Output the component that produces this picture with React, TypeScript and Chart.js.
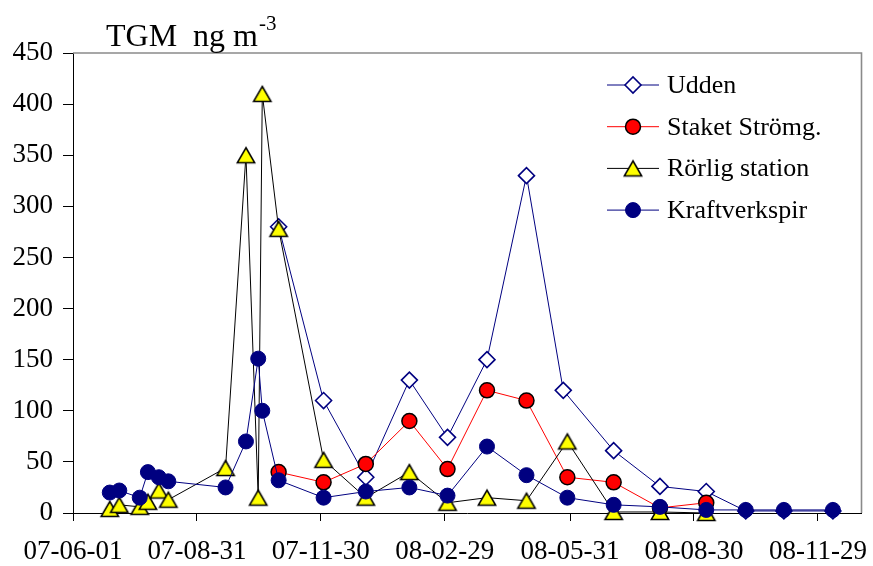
import React, { useEffect, useRef } from 'react';
import { Chart, registerables } from 'chart.js';
import { drawPoint } from 'chart.js/helpers';

Chart.register(...registerables);

// ---------- data ----------
const xMinDate = '2007-06-01';
const xMaxDate = '2008-12-31';
const xTickDates = ['2007-06-01', '2007-08-31', '2007-11-30', '2008-02-29', '2008-05-31', '2008-08-30', '2008-11-29'];
const xTickLabels = ['07-06-01', '07-08-31', '07-11-30', '08-02-29', '08-05-31', '08-08-30', '08-11-29'];
const yMin = 0;
const yMax = 450;
const yStep = 50;

const uddenDates = ['2007-10-30', '2007-12-02', '2008-01-02', '2008-02-03', '2008-03-02', '2008-03-31', '2008-04-29', '2008-05-26', '2008-07-02', '2008-08-05', '2008-09-08', '2008-10-07', '2008-11-04', '2008-12-10'];
const uddenValues = [280, 110, 35, 130, 74, 150, 330, 120, 61, 26, 21, 2, 2, 2];

const staketDates = ['2007-10-30', '2007-12-02', '2008-01-02', '2008-02-03', '2008-03-02', '2008-03-31', '2008-04-29', '2008-05-29', '2008-07-02', '2008-08-05', '2008-09-08'];
const staketValues = [40, 30, 48, 90, 43, 120, 110, 35, 30, 5, 10];

const rorligDates = ['2007-06-28', '2007-07-05', '2007-07-20', '2007-07-26', '2007-08-03', '2007-08-10', '2007-09-21', '2007-10-06', '2007-10-15', '2007-10-18', '2007-10-30', '2007-12-02', '2008-01-02', '2008-02-03', '2008-03-02', '2008-03-31', '2008-04-29', '2008-05-29', '2008-07-02', '2008-08-05', '2008-09-08'];
const rorligValues = [4, 8, 6, 11, 22, 13, 44, 350, 15, 410, 278, 52, 15, 40, 10, 15, 12, 70, 1, 1, 0];

const kraftDates = ['2007-06-28', '2007-07-05', '2007-07-20', '2007-07-26', '2007-08-03', '2007-08-10', '2007-09-21', '2007-10-06', '2007-10-15', '2007-10-18', '2007-10-30', '2007-12-02', '2008-01-02', '2008-02-03', '2008-03-02', '2008-03-31', '2008-04-29', '2008-05-29', '2008-07-02', '2008-08-05', '2008-09-08', '2008-10-07', '2008-11-04', '2008-12-10'];
const kraftValues = [20, 22, 15, 40, 35, 31, 25, 70, 151, 100, 32, 15, 21, 25, 17, 65, 37, 15, 8, 6, 3, 3, 3, 3];

const seriesNames = ['Udden', 'Staket Strömg.', 'Rörlig station', 'Kraftverkspir'];
const titleMain = 'TGM  ng m';
const titleSup = '-3';

// ---------- helpers ----------
const BASE = (() => {
  const [y, m, d] = xMinDate.split('-').map(Number);
  return Date.UTC(y, m - 1, d);
})();
const dayOf = (s: string) => {
  const [y, m, d] = s.split('-').map(Number);
  return Math.round((Date.UTC(y, m - 1, d) - BASE) / 86400000);
};
const toPoints = (dates: string[], values: number[]) => dates.map((d, i) => ({ x: dayOf(d), y: values[i] }));

const FONT = '"Liberation Serif", "Times New Roman", serif';
const NAVY = '#000080';

// triangle marker centred on its bounding box (like the spreadsheet marker)
function makeTriangle(): HTMLCanvasElement {
  const c = document.createElement('canvas');
  c.width = 22;
  c.height = 20;
  const g = c.getContext('2d')!;
  const cx = 11;
  const cy = 10;
  const half = 8.7;
  const h = 15;
  g.beginPath();
  g.moveTo(cx, cy - h / 2);
  g.lineTo(cx + half, cy + h / 2);
  g.lineTo(cx - half, cy + h / 2);
  g.closePath();
  g.fillStyle = '#ffff00';
  g.fill();
  g.lineWidth = 1.5;
  g.lineJoin = 'miter';
  g.strokeStyle = '#000000';
  g.stroke();
  return c;
}

export default function App() {
  const ref = useRef<HTMLCanvasElement | null>(null);

  useEffect(() => {
    if (!ref.current) return;
    const tri = makeTriangle();

    const datasets: any[] = [
      {
        label: seriesNames[0],
        data: toPoints(uddenDates, uddenValues),
        borderColor: NAVY,
        borderWidth: 1,
        pointStyle: 'rectRot',
        pointRadius: 8,
        pointBackgroundColor: '#ffffff',
        pointBorderColor: NAVY,
        pointBorderWidth: 1.6,
        order: 4,
        clip: false,
      },
      {
        label: seriesNames[1],
        data: toPoints(staketDates, staketValues),
        borderColor: '#ff0000',
        borderWidth: 1,
        pointStyle: 'circle',
        pointRadius: 7.5,
        pointBackgroundColor: '#ff0000',
        pointBorderColor: '#000000',
        pointBorderWidth: 1.5,
        order: 3,
        clip: false,
      },
      {
        label: seriesNames[2],
        data: toPoints(rorligDates, rorligValues),
        borderColor: '#000000',
        borderWidth: 1,
        pointStyle: tri,
        pointRadius: 10,
        pointBackgroundColor: '#ffff00',
        pointBorderColor: '#000000',
        pointBorderWidth: 1.5,
        order: 2,
        clip: false,
      },
      {
        label: seriesNames[3],
        data: toPoints(kraftDates, kraftValues),
        borderColor: NAVY,
        borderWidth: 1,
        pointStyle: 'circle',
        pointRadius: 7.5,
        pointBackgroundColor: NAVY,
        pointBorderColor: NAVY,
        pointBorderWidth: 1,
        order: 1,
        clip: false,
      },
    ];

    const decor = {
      id: 'decor',
      beforeDatasetsDraw(chart: any) {
        const { ctx, chartArea: a } = chart;
        ctx.save();
        ctx.strokeStyle = '#8a8a8a';
        ctx.lineWidth = 1.6;
        ctx.beginPath();
        ctx.moveTo(a.left, a.top);
        ctx.lineTo(a.right, a.top);
        ctx.lineTo(a.right, a.bottom);
        ctx.stroke();
        ctx.restore();
      },
      afterDraw(chart: any) {
        const { ctx } = chart;
        ctx.save();
        // title
        ctx.fillStyle = '#000';
        ctx.textBaseline = 'alphabetic';
        ctx.textAlign = 'left';
        ctx.font = `32px ${FONT}`;
        const tx = 106;
        const ty = 46;
        ctx.fillText(titleMain, tx, ty);
        const w = ctx.measureText(titleMain).width;
        ctx.font = `21px ${FONT}`;
        ctx.fillText(titleSup, tx + w + 1, ty - 16);

        // legend
        const lx0 = 607;
        const lx1 = 659;
        const mx = 633;
        const textX = 667;
        const y0 = 85;
        const dy = 41.7;
        chart.data.datasets.forEach((ds: any, i: number) => {
          const y = y0 + i * dy;
          ctx.strokeStyle = ds.borderColor;
          ctx.lineWidth = ds.borderWidth;
          ctx.beginPath();
          ctx.moveTo(lx0, y);
          ctx.lineTo(lx1, y);
          ctx.stroke();
          ctx.fillStyle = ds.pointBackgroundColor;
          ctx.strokeStyle = ds.pointBorderColor;
          ctx.lineWidth = ds.pointBorderWidth;
          drawPoint(ctx, { pointStyle: ds.pointStyle, radius: ds.pointRadius, borderWidth: ds.pointBorderWidth, rotation: 0 } as any, mx, y);
          ctx.fillStyle = '#000';
          ctx.font = `26px ${FONT}`;
          ctx.textBaseline = 'middle';
          ctx.textAlign = 'left';
          ctx.fillText(ds.label, textX, y + 1);
        });
        ctx.restore();
      },
    };

    const chart = new Chart(ref.current, {
      type: 'line',
      data: { datasets },
      options: {
        animation: false,
        responsive: false,
        maintainAspectRatio: false,
        layout: { padding: { left: 0, top: 53, right: 11, bottom: 0 } },
        plugins: { legend: { display: false }, tooltip: { enabled: false }, title: { display: false } },
        scales: {
          x: {
            type: 'linear',
            min: dayOf(xMinDate),
            max: dayOf(xMaxDate),
            afterBuildTicks: (s: any) => {
              s.ticks = xTickDates.map((d) => ({ value: dayOf(d) }));
            },
            afterFit: (s: any) => {
              s.height = 53;
              s.paddingLeft = 0;
              s.paddingRight = 0;
            },
            ticks: {
              autoSkip: false,
              maxRotation: 0,
              minRotation: 0,
              color: '#000',
              padding: 15,
              font: { family: FONT, size: 27 },
              callback: (v: any) => {
                const idx = xTickDates.findIndex((d) => dayOf(d) === v);
                return idx >= 0 ? xTickLabels[idx] : '';
              },
            },
            grid: { drawOnChartArea: false, drawTicks: true, tickLength: 8, color: '#000', lineWidth: 1 },
            border: { display: true, color: '#000', width: 1 },
          },
          y: {
            type: 'linear',
            min: yMin,
            max: yMax,
            afterFit: (s: any) => {
              s.width = 73;
              s.paddingTop = 0;
              s.paddingBottom = 0;
            },
            ticks: {
              stepSize: yStep,
              color: '#000',
              padding: 10,
              font: { family: FONT, size: 27 },
            },
            grid: { drawOnChartArea: false, drawTicks: true, tickLength: 10, color: '#000', lineWidth: 1 },
            border: { display: true, color: '#000', width: 1 },
          },
        },
      } as any,
      plugins: [decor],
    });

    return () => chart.destroy();
  }, []);

  return (
    <div style={{ position: 'fixed', left: 0, top: 0, width: 873, height: 566, background: '#fff' }}>
      <canvas ref={ref} width={873} height={566} style={{ width: 873, height: 566, display: 'block' }} />
    </div>
  );
}
